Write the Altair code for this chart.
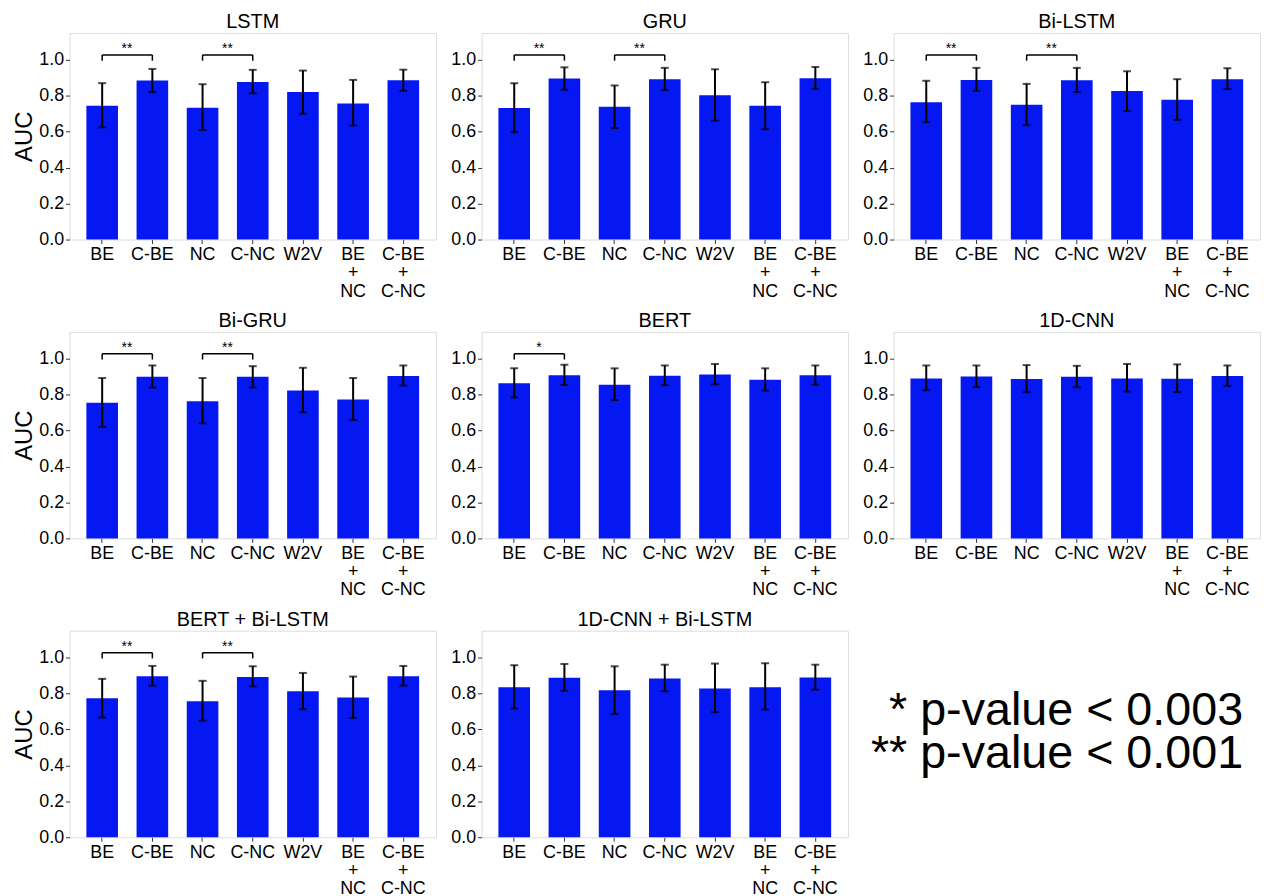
import altair as alt
import pandas as pd

CATS = ["BE", "C-BE", "NC", "C-NC", "W2V", "BE + NC", "C-BE + C-NC"]
MODELS = ["LSTM", "GRU", "Bi-LSTM", "Bi-GRU", "BERT", "1D-CNN",
          "BERT + Bi-LSTM", "1D-CNN + Bi-LSTM"]

LSTM_mean = [0.745, 0.886, 0.734, 0.878, 0.821, 0.758, 0.887]
LSTM_lo = [0.625, 0.821, 0.609, 0.814, 0.701, 0.635, 0.828]
LSTM_hi = [0.871, 0.950, 0.865, 0.945, 0.941, 0.889, 0.946]

GRU_mean = [0.732, 0.897, 0.740, 0.893, 0.804, 0.745, 0.898]
GRU_lo = [0.598, 0.834, 0.620, 0.832, 0.662, 0.614, 0.839]
GRU_hi = [0.871, 0.959, 0.858, 0.956, 0.948, 0.876, 0.961]

BILSTM_mean = [0.764, 0.889, 0.751, 0.887, 0.827, 0.779, 0.893]
BILSTM_lo = [0.653, 0.828, 0.637, 0.821, 0.716, 0.666, 0.838]
BILSTM_hi = [0.884, 0.956, 0.867, 0.956, 0.937, 0.893, 0.954]

BIGRU_mean = [0.755, 0.900, 0.764, 0.900, 0.823, 0.773, 0.904]
BIGRU_lo = [0.621, 0.840, 0.641, 0.840, 0.702, 0.659, 0.851]
BIGRU_hi = [0.893, 0.963, 0.893, 0.959, 0.950, 0.893, 0.963]

BERT_mean = [0.864, 0.908, 0.856, 0.906, 0.913, 0.884, 0.908]
BERT_lo = [0.785, 0.855, 0.770, 0.853, 0.858, 0.823, 0.856]
BERT_hi = [0.947, 0.967, 0.947, 0.963, 0.971, 0.947, 0.963]

CNN_mean = [0.891, 0.902, 0.888, 0.900, 0.891, 0.889, 0.904]
CNN_lo = [0.825, 0.843, 0.814, 0.842, 0.818, 0.814, 0.849]
CNN_hi = [0.963, 0.963, 0.965, 0.961, 0.971, 0.969, 0.963]

BERTBI_mean = [0.774, 0.897, 0.757, 0.892, 0.813, 0.778, 0.897]
BERTBI_lo = [0.667, 0.844, 0.649, 0.840, 0.713, 0.664, 0.844]
BERTBI_hi = [0.882, 0.954, 0.871, 0.952, 0.915, 0.895, 0.954]

CNNBI_mean = [0.836, 0.888, 0.818, 0.884, 0.829, 0.836, 0.890]
CNNBI_lo = [0.717, 0.816, 0.686, 0.813, 0.697, 0.711, 0.822]
CNNBI_hi = [0.958, 0.965, 0.952, 0.961, 0.967, 0.969, 0.961]

# significance brackets: (left category, right category, stars)
BRACKETS = {
    "LSTM": [("BE", "C-BE", "**"), ("NC", "C-NC", "**")],
    "GRU": [("BE", "C-BE", "**"), ("NC", "C-NC", "**")],
    "Bi-LSTM": [("BE", "C-BE", "**"), ("NC", "C-NC", "**")],
    "Bi-GRU": [("BE", "C-BE", "**"), ("NC", "C-NC", "**")],
    "BERT": [("BE", "C-BE", "*")],
    "1D-CNN": [],
    "BERT + Bi-LSTM": [("BE", "C-BE", "**"), ("NC", "C-NC", "**")],
    "1D-CNN + Bi-LSTM": [],
}
BRACKET_Y = 1.028
BRACKET_LEG = 0.996
STAR_Y = 1.037

LEGEND_LINES = ["* p-value < 0.003", "** p-value < 0.001"]

SERIES = {
    "LSTM": (LSTM_mean, LSTM_lo, LSTM_hi),
    "GRU": (GRU_mean, GRU_lo, GRU_hi),
    "Bi-LSTM": (BILSTM_mean, BILSTM_lo, BILSTM_hi),
    "Bi-GRU": (BIGRU_mean, BIGRU_lo, BIGRU_hi),
    "BERT": (BERT_mean, BERT_lo, BERT_hi),
    "1D-CNN": (CNN_mean, CNN_lo, CNN_hi),
    "BERT + Bi-LSTM": (BERTBI_mean, BERTBI_lo, BERTBI_hi),
    "1D-CNN + Bi-LSTM": (CNNBI_mean, CNNBI_lo, CNNBI_hi),
}

FONT = "Liberation Sans"
W = 369
H = 208
BLUE = "#0518F2"
XSCALE = alt.Scale(domain=CATS, paddingInner=0.37, paddingOuter=0.335)


def panel(name, first_col):
    mean, lo, hi = SERIES[name]
    df = pd.DataFrame({"cat": CATS, "mean": mean, "lo": lo, "hi": hi})
    xaxis = alt.Axis(labelAngle=0, labelExpr="split(datum.label, ' ')",
                     labelFontSize=18, labelLineHeight=18.5, labelFont=FONT,
                     labelColor="black", tickSize=4, tickColor="#333",
                     domain=False, labelPadding=2)
    xenc = alt.X("cat:N", title=None, scale=XSCALE, axis=xaxis)
    ttl = "AUC" if first_col else None

    def yenc(field):
        return alt.Y(
            field + ":Q", title=ttl,
            scale=alt.Scale(domain=[0, 1.15], nice=False, zero=True),
            axis=alt.Axis(values=[0, 0.2, 0.4, 0.6, 0.8, 1.0], format=".1f",
                          grid=False, domain=False, labelFontSize=18,
                          labelFont=FONT, labelColor="black", tickSize=4,
                          tickColor="#333", labelPadding=2,
                          titleFontSize=24, titleFont=FONT,
                          titleFontWeight="normal", titleColor="black",
                          titlePadding=2),
        )

    base = alt.Chart(df)
    bars = base.mark_bar(color=BLUE).encode(x=xenc, y=yenc("mean"))
    err = base.mark_rule(color="black", strokeWidth=2).encode(
        x=xenc, y=yenc("lo"), y2="hi:Q")
    cap_lo = base.mark_tick(color="black", size=8, thickness=2).encode(
        x=xenc, y=yenc("lo"))
    cap_hi = base.mark_tick(color="black", size=8, thickness=2).encode(
        x=xenc, y=yenc("hi"))
    layers = [bars, err, cap_lo, cap_hi]

    br = BRACKETS[name]
    if br:
        bdf = pd.DataFrame({
            "a": [b[0] for b in br], "b": [b[1] for b in br],
            "s": [b[2] for b in br],
            "yb": [BRACKET_Y] * len(br), "yl": [BRACKET_LEG] * len(br),
            "ys": [STAR_Y] * len(br),
        })
        bb = alt.Chart(bdf)
        xa = alt.X("a:N", title=None, scale=XSCALE, axis=xaxis)
        xb = alt.X("b:N", title=None, scale=XSCALE, axis=xaxis)
        top = bb.mark_rule(color="black", strokeWidth=1.5).encode(
            x=xa, x2="b:N", y=yenc("yb"))
        leg_a = bb.mark_rule(color="black", strokeWidth=1.5).encode(
            x=xa, y=yenc("yl"), y2="yb:Q")
        leg_b = bb.mark_rule(color="black", strokeWidth=1.5).encode(
            x=xb, y=yenc("yl"), y2="yb:Q")
        stars = bb.mark_text(fontSize=14, font=FONT, color="black",
                             baseline="alphabetic", dx=25).encode(
            x=xa, y=yenc("ys"), text="s:N")
        layers += [top, leg_a, leg_b, stars]

    return alt.layer(*layers).properties(
        width=W, height=H,
        title=alt.TitleParams(name, fontSize=20, font=FONT,
                              fontWeight="normal", color="black", offset=1),
    )


legend_df = pd.DataFrame({"t": LEGEND_LINES, "row": [0, 1]})
leg1 = alt.Chart(legend_df).transform_filter("datum.row == 0").mark_text(
    align="right", baseline="alphabetic", fontSize=47, font=FONT,
    color="black").encode(x=alt.value(384), y=alt.value(95), text="t:N")
leg2 = alt.Chart(legend_df).transform_filter("datum.row == 1").mark_text(
    align="right", baseline="alphabetic", fontSize=47, font=FONT,
    color="black").encode(x=alt.value(384), y=alt.value(138), text="t:N")
legend = alt.layer(leg1, leg2).properties(
    width=386, height=H, view=alt.ViewBackground(strokeOpacity=0))

row1 = alt.hconcat(panel("LSTM", True), panel("GRU", False),
                   panel("Bi-LSTM", False), spacing=13)
row2 = alt.hconcat(panel("Bi-GRU", True), panel("BERT", False),
                   panel("1D-CNN", False), spacing=13)
row3 = alt.hconcat(panel("BERT + Bi-LSTM", True),
                   panel("1D-CNN + Bi-LSTM", False), legend, spacing=13)

chart = alt.vconcat(row1, row2, row3, spacing=9).configure_view(
    stroke="#555", strokeWidth=1.3).configure(background="white").properties(
    padding={"left": 4, "top": 0, "right": 0, "bottom": 0})

chart.save("out.html", embed_options={"renderer": "svg", "actions": False})
